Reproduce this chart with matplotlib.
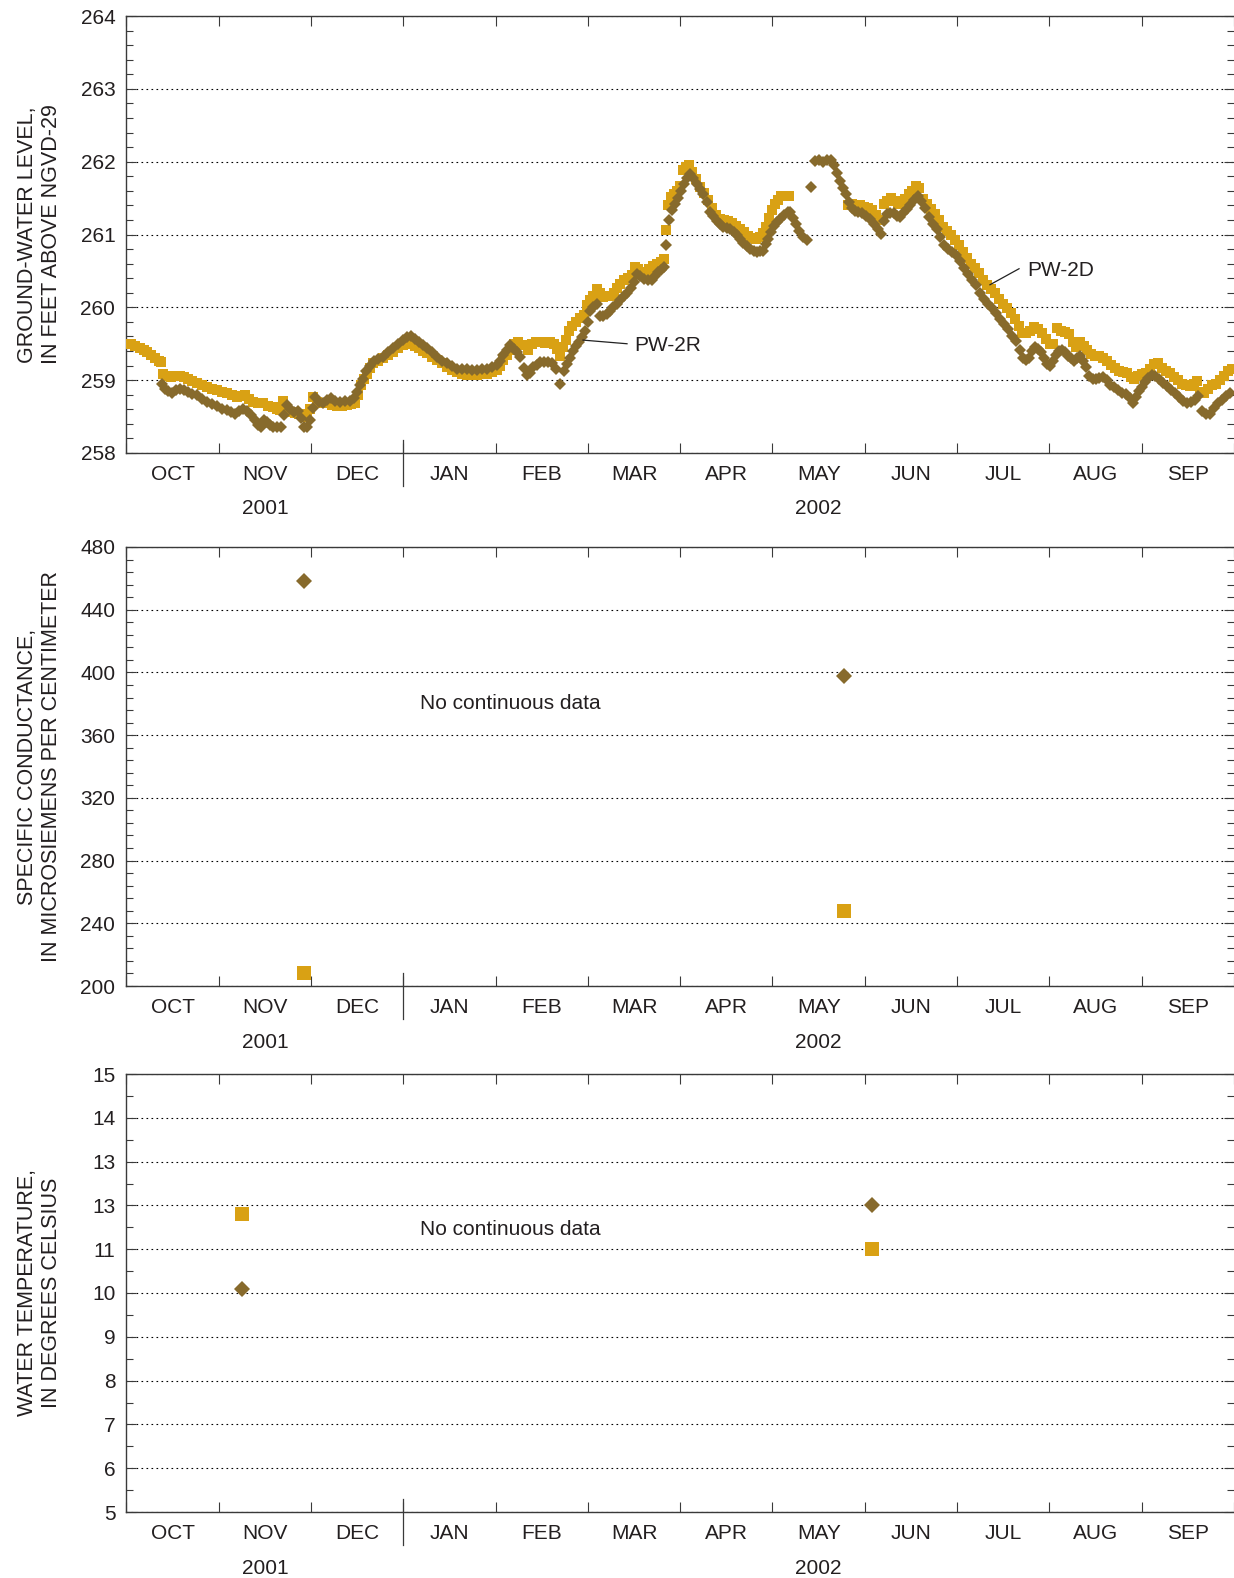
import matplotlib
matplotlib.use('Agg')
import matplotlib.pyplot as plt
import numpy as np
from matplotlib.transforms import blended_transform_factory
from matplotlib.ticker import MultipleLocator, FixedLocator, FuncFormatter

plt.rcParams['font.family'] = ['Liberation Sans', 'DejaVu Sans']
plt.rcParams['font.size'] = 15

TXT = '#231f20'
AXC = '#3a3a3a'
GOLD = '#d9a114'
BROWN = '#876a2c'

# ---------------- data ----------------
months = ['OCT', 'NOV', 'DEC', 'JAN', 'FEB', 'MAR', 'APR', 'MAY', 'JUN', 'JUL', 'AUG', 'SEP']
years = ['2001', '2002']
year_pos = [1.5, 7.5]          # month position (months since 1 Oct 2001)

# time in months since 1 October 2001 (each month plotted with equal width)
pw2d_t = [0.006, 0.050, 0.093, 0.147, 0.191, 0.223, 0.267, 0.310, 0.353, 0.375,
          0.397, 0.440, 0.483, 0.527, 0.581, 0.624, 0.667, 0.711, 0.765, 0.819,
          0.873, 0.927, 0.982, 1.036, 1.090, 1.144, 1.198, 1.242, 1.285, 1.328,
          1.372, 1.426, 1.480, 1.534, 1.588, 1.632, 1.664, 1.697, 1.740, 1.783,
          1.827, 1.870, 1.913, 1.957, 1.989, 2.022, 2.065, 2.119, 2.173, 2.228,
          2.282, 2.336, 2.390, 2.433, 2.477, 2.509, 2.542, 2.574, 2.607, 2.639,
          2.672, 2.726, 2.780, 2.834, 2.888, 2.943, 2.997, 3.040, 3.083, 3.127,
          3.170, 3.213, 3.257, 3.311, 3.365, 3.419, 3.473, 3.528, 3.582, 3.636,
          3.690, 3.744, 3.798, 3.853, 3.907, 3.961, 4.015, 4.048, 4.080, 4.123,
          4.156, 4.199, 4.243, 4.297, 4.351, 4.394, 4.438, 4.481, 4.535, 4.589,
          4.633, 4.665, 4.698, 4.730, 4.763, 4.795, 4.828, 4.871, 4.914, 4.958,
          4.990, 5.023, 5.055, 5.099, 5.131, 5.164, 5.207, 5.250, 5.283, 5.315,
          5.348, 5.391, 5.434, 5.478, 5.510, 5.543, 5.586, 5.629, 5.662, 5.705,
          5.749, 5.792, 5.824, 5.846, 5.868, 5.900, 5.933, 5.965, 5.998, 6.030,
          6.063, 6.095, 6.128, 6.171, 6.214, 6.258, 6.301, 6.345, 6.388, 6.431,
          6.475, 6.518, 6.561, 6.605, 6.648, 6.691, 6.735, 6.778, 6.821, 6.865,
          6.897, 6.930, 6.962, 6.995, 7.027, 7.060, 7.092, 7.136, 7.179,
          7.818, 7.861, 7.905, 7.948, 7.991, 8.035, 8.078, 8.121, 8.165, 8.208,
          8.241, 8.284, 8.327, 8.360, 8.403, 8.436, 8.479, 8.511, 8.555, 8.587,
          8.631, 8.674, 8.717, 8.761, 8.804, 8.847, 8.891, 8.934, 8.977, 9.021,
          9.064, 9.107, 9.151, 9.194, 9.237, 9.281, 9.324, 9.367, 9.411, 9.454,
          9.497, 9.541, 9.584, 9.627, 9.671, 9.703, 9.746, 9.790, 9.833, 9.876,
          9.920, 9.963, 10.006, 10.039, 10.082, 10.126, 10.169, 10.212, 10.256, 10.288,
          10.332, 10.375, 10.407, 10.451, 10.494, 10.537, 10.581, 10.624, 10.667, 10.711,
          10.754, 10.797, 10.841, 10.884, 10.917, 10.960, 11.003, 11.047, 11.090, 11.133,
          11.177, 11.220, 11.263, 11.307, 11.350, 11.393, 11.437, 11.480, 11.523, 11.567,
          11.599, 11.632, 11.675, 11.718, 11.762, 11.805, 11.848, 11.892, 11.935, 11.978]
pw2d_level = [259.50, 259.49, 259.47, 259.44, 259.41, 259.39, 259.35, 259.31, 259.27, 259.25,
              259.08, 259.06, 259.05, 259.06, 259.06, 259.04, 259.02, 258.99, 258.96, 258.94,
              258.91, 258.88, 258.86, 258.84, 258.82, 258.79, 258.77, 258.78, 258.79, 258.74,
              258.70, 258.69, 258.68, 258.65, 258.63, 258.61, 258.59, 258.72, 258.60, 258.56,
              258.55, 258.54, 258.54, 258.50, 258.60, 258.77, 258.70, 258.69, 258.68, 258.66,
              258.64, 258.65, 258.66, 258.67, 258.68, 258.80, 258.93, 259.02, 259.09, 259.17,
              259.23, 259.27, 259.30, 259.35, 259.39, 259.44, 259.48, 259.50, 259.50, 259.47,
              259.44, 259.40, 259.37, 259.32, 259.28, 259.23, 259.18, 259.14, 259.11, 259.09,
              259.07, 259.07, 259.07, 259.08, 259.09, 259.11, 259.14, 259.20, 259.28, 259.35,
              259.41, 259.50, 259.53, 259.48, 259.41, 259.50, 259.53, 259.52, 259.51, 259.52,
              259.50, 259.43, 259.33, 259.45, 259.55, 259.68, 259.75, 259.80, 259.85, 259.90,
              260.03, 260.10, 260.16, 260.25, 260.20, 260.14, 260.15, 260.16, 260.20, 260.27,
              260.32, 260.37, 260.40, 260.45, 260.55, 260.52, 260.48, 260.49, 260.52, 260.57,
              260.59, 260.62, 260.66, 261.06, 261.40, 261.52, 261.56, 261.60, 261.66, 261.88,
              261.93, 261.95, 261.86, 261.76, 261.65, 261.57, 261.48, 261.36, 261.27, 261.21,
              261.20, 261.18, 261.16, 261.12, 261.08, 261.03, 260.98, 260.95, 260.94, 260.96,
              261.02, 261.10, 261.22, 261.33, 261.42, 261.48, 261.53, 261.53, 261.53,
              261.40, 261.42, 261.41, 261.40, 261.38, 261.37, 261.33, 261.27, 261.20, 261.42,
              261.46, 261.50, 261.46, 261.42, 261.45, 261.49, 261.55, 261.60, 261.66, 261.64,
              261.49, 261.42, 261.35, 261.28, 261.20, 261.10, 261.05, 261.00, 260.93, 260.85,
              260.76, 260.68, 260.60, 260.54, 260.47, 260.37, 260.31, 260.25, 260.20, 260.12,
              260.05, 259.99, 259.92, 259.84, 259.74, 259.65, 259.65, 259.67, 259.73, 259.70,
              259.65, 259.56, 259.50, 259.49, 259.71, 259.68, 259.66, 259.63, 259.52, 259.46,
              259.53, 259.47, 259.42, 259.36, 259.33, 259.33, 259.30, 259.26, 259.21, 259.17,
              259.13, 259.11, 259.10, 259.04, 259.01, 259.06, 259.09, 259.10, 259.16, 259.22,
              259.24, 259.17, 259.13, 259.10, 259.05, 259.00, 258.95, 258.93, 258.92, 258.95,
              258.99, 258.84, 258.83, 258.88, 258.93, 258.95, 259.00, 259.06, 259.12, 259.16]

pw2r_t = [0.386, 0.418, 0.451, 0.494, 0.537, 0.581, 0.624, 0.667, 0.711, 0.765,
          0.819, 0.873, 0.927, 0.982, 1.036, 1.090, 1.133, 1.177, 1.220, 1.263,
          1.307, 1.350, 1.393, 1.426, 1.458, 1.491, 1.523, 1.556, 1.588, 1.632,
          1.675, 1.707, 1.740, 1.772, 1.816, 1.859, 1.892, 1.924, 1.957, 1.989,
          2.022, 2.043, 2.087, 2.130, 2.173, 2.217, 2.260, 2.314, 2.368, 2.423,
          2.466, 2.498, 2.531, 2.563, 2.596, 2.639, 2.683, 2.726, 2.780, 2.834,
          2.888, 2.943, 2.997, 3.040, 3.083, 3.127, 3.170, 3.213, 3.257, 3.311,
          3.365, 3.419, 3.473, 3.528, 3.582, 3.636, 3.690, 3.744, 3.798, 3.853,
          3.907, 3.961, 4.015, 4.048, 4.080, 4.123, 4.156, 4.199, 4.232, 4.264,
          4.308, 4.340, 4.373, 4.405, 4.449, 4.481, 4.524, 4.568, 4.611, 4.654,
          4.698, 4.741, 4.774, 4.806, 4.839, 4.871, 4.903, 4.936, 4.969, 5.001,
          5.023, 5.055, 5.099, 5.131, 5.164, 5.207, 5.239, 5.272, 5.315, 5.348,
          5.391, 5.424, 5.467, 5.499, 5.532, 5.565, 5.608, 5.651, 5.694, 5.727,
          5.759, 5.792, 5.824, 5.846, 5.879, 5.911, 5.944, 5.976, 6.009, 6.041,
          6.074, 6.106, 6.139, 6.182, 6.214, 6.247, 6.290, 6.323, 6.355, 6.399,
          6.431, 6.464, 6.507, 6.540, 6.583, 6.615, 6.648, 6.680, 6.724, 6.756,
          6.800, 6.832, 6.865, 6.897, 6.930, 6.952, 6.984, 7.016, 7.049, 7.081,
          7.125, 7.168, 7.190, 7.222, 7.255, 7.287, 7.331, 7.374, 7.417, 7.460,
          7.504, 7.547, 7.591, 7.634, 7.666, 7.699, 7.731, 7.764, 7.796, 7.829,
          7.861, 7.894, 7.926, 7.970, 8.013, 8.056, 8.100, 8.143, 8.176, 8.208,
          8.241, 8.273, 8.316, 8.349, 8.381, 8.414, 8.457, 8.490, 8.533, 8.576,
          8.609, 8.652, 8.695, 8.739, 8.782, 8.815, 8.858, 8.901, 8.945, 8.988,
          9.031, 9.075, 9.118, 9.161, 9.205, 9.248, 9.292, 9.335, 9.378, 9.422,
          9.465, 9.508, 9.552, 9.595, 9.638, 9.682, 9.714, 9.746, 9.779, 9.811,
          9.844, 9.876, 9.909, 9.941, 9.974, 10.006, 10.039, 10.072, 10.104, 10.137,
          10.169, 10.202, 10.234, 10.267, 10.299, 10.332, 10.364, 10.397, 10.429, 10.472,
          10.505, 10.537, 10.581, 10.624, 10.657, 10.700, 10.743, 10.787, 10.830, 10.873,
          10.906, 10.938, 10.971, 11.003, 11.036, 11.068, 11.112, 11.144, 11.188, 11.231,
          11.274, 11.318, 11.361, 11.404, 11.448, 11.491, 11.534, 11.578, 11.610, 11.653,
          11.697, 11.740, 11.783, 11.827, 11.870, 11.913, 11.957]
pw2r_level = [258.95, 258.88, 258.85, 258.83, 258.86, 258.88, 258.86, 258.84, 258.81, 258.79,
              258.74, 258.70, 258.67, 258.64, 258.61, 258.59, 258.56, 258.54, 258.57, 258.61,
              258.57, 258.52, 258.45, 258.39, 258.36, 258.45, 258.43, 258.39, 258.36, 258.36,
              258.36, 258.52, 258.66, 258.60, 258.56, 258.58, 258.48, 258.36, 258.36, 258.45,
              258.62, 258.77, 258.70, 258.69, 258.73, 258.75, 258.72, 258.70, 258.71, 258.72,
              258.76, 258.84, 258.93, 259.02, 259.12, 259.20, 259.26, 259.29, 259.32, 259.38,
              259.44, 259.50, 259.55, 259.59, 259.61, 259.57, 259.52, 259.48, 259.44, 259.38,
              259.32, 259.27, 259.23, 259.19, 259.16, 259.15, 259.15, 259.14, 259.14, 259.15,
              259.16, 259.18, 259.21, 259.27, 259.34, 259.42, 259.48, 259.43, 259.39, 259.32,
              259.17, 259.07, 259.10, 259.18, 259.21, 259.25, 259.25, 259.25, 259.24, 259.16,
              258.95, 259.12, 259.22, 259.30, 259.40, 259.47, 259.53, 259.59, 259.68, 259.80,
              259.95, 260.00, 260.05, 259.88, 259.88, 259.91, 259.95, 260.00, 260.05, 260.10,
              260.15, 260.19, 260.27, 260.35, 260.46, 260.43, 260.39, 260.38, 260.37, 260.43,
              260.48, 260.51, 260.55, 260.86, 261.20, 261.34, 261.42, 261.50, 261.60, 261.70,
              261.78, 261.83, 261.78, 261.69, 261.62, 261.56, 261.44, 261.31, 261.25, 261.19,
              261.14, 261.10, 261.09, 261.08, 261.03, 260.99, 260.94, 260.89, 260.84, 260.80,
              260.77, 260.76, 260.77, 260.78, 260.87, 260.94, 261.04, 261.12, 261.17, 261.21,
              261.27, 261.31, 261.31, 261.22, 261.14, 261.05, 260.97, 260.92, 261.65, 262.01,
              262.02, 261.99, 262.02, 262.02, 261.96, 261.84, 261.74, 261.64, 261.55, 261.45,
              261.36, 261.32, 261.31, 261.29, 261.25, 261.21, 261.14, 261.07, 261.01, 261.18,
              261.28, 261.30, 261.30, 261.26, 261.24, 261.30, 261.35, 261.41, 261.48, 261.53,
              261.46, 261.36, 261.24, 261.15, 261.08, 260.97, 260.86, 260.80, 260.76, 260.72,
              260.63, 260.54, 260.46, 260.38, 260.30, 260.20, 260.11, 260.04, 259.99, 259.92,
              259.84, 259.77, 259.70, 259.61, 259.54, 259.42, 259.30, 259.28, 259.30, 259.40,
              259.46, 259.43, 259.38, 259.30, 259.22, 259.19, 259.27, 259.35, 259.40, 259.42,
              259.38, 259.33, 259.30, 259.26, 259.30, 259.33, 259.27, 259.18, 259.06, 259.02,
              259.01, 259.03, 259.05, 259.00, 258.94, 258.90, 258.86, 258.83, 258.81, 258.76,
              258.69, 258.77, 258.85, 258.90, 258.97, 259.03, 259.07, 259.06, 259.02, 258.96,
              258.92, 258.87, 258.82, 258.77, 258.72, 258.69, 258.70, 258.73, 258.78, 258.57,
              258.53, 258.54, 258.62, 258.69, 258.73, 258.78, 258.83]

# discrete samples
sc_t = [1.924, 7.775]
sc_pw2d = [208, 248]
sc_pw2r = [458, 398]

wt_t_pw2d = [1.252, 8.078]
wt_pw2d = [11.8, 11.0]
wt_t_pw2r = [1.252, 8.078]
wt_pw2r = [10.1, 12.0]

temp_ticks = [5, 6, 7, 8, 9, 10, 11, 12, 13, 14, 15]
temp_labels = ['5', '6', '7', '8', '9', '10', '11', '13', '13', '14', '15']

# ---------------- figure ----------------
W, H = 1234, 1578
fig = plt.figure(figsize=(W / 100, H / 100), dpi=100)
LEFT = 126.4


def make_axes(top_px, bot_px):
    return fig.add_axes([LEFT / W, 1 - bot_px / H, 1 - LEFT / W, (bot_px - top_px) / H])


def style(ax, ylim, major, minor, ylabel, h_px):
    ax.set_xlim(0, 12)
    ax.set_ylim(*ylim)
    ax.xaxis.set_major_locator(FixedLocator(np.arange(0, 13)))
    ax.xaxis.set_minor_locator(FixedLocator(np.arange(12) + 0.5))
    ax.xaxis.set_minor_formatter(FuncFormatter(lambda v, p: months[int(v)] if 0 <= int(v) < 12 else ''))
    ax.xaxis.set_major_formatter(FuncFormatter(lambda v, p: ''))
    ax.tick_params(axis='x', which='major', direction='in', length=7, width=0.8,
                   top=True, bottom=True, labelbottom=False, color=AXC)
    ax.tick_params(axis='x', which='minor', length=0, pad=8.5, labelsize=15,
                   labelcolor=TXT, top=False)
    if major is not None:
        ax.yaxis.set_major_locator(MultipleLocator(major))
        ax.yaxis.set_major_formatter(FuncFormatter(lambda v, p: f'{v:.0f}'))
    ax.yaxis.set_minor_locator(MultipleLocator(minor))
    ax.tick_params(axis='y', which='major', direction='in', length=7, width=0.8,
                   left=True, right=True, pad=8, labelsize=15, labelcolor=TXT, color=AXC)
    ax.tick_params(axis='y', which='minor', direction='in', length=5, width=0.8,
                   left=True, right=True, color=AXC)
    ax.grid(axis='y', which='major', color='black', lw=0.8, linestyle=(0, (1.5, 3.0)))
    ax.grid(axis='x', visible=False)
    ax.spines['right'].set_visible(False)
    for s in ['left', 'top', 'bottom']:
        ax.spines[s].set_color(AXC)
        ax.spines[s].set_linewidth(1.0)
    ax.set_ylabel(ylabel, color=TXT, fontsize=15.5, linespacing=1.2)
    ax.yaxis.set_label_coords(-0.058, 0.5)
    tr = blended_transform_factory(ax.transData, ax.transAxes)
    ax.plot([3, 3], [-33 / h_px, 13 / h_px], transform=tr, clip_on=False,
            color=AXC, lw=0.9, zorder=5)
    for yr, xp in zip(years, year_pos):
        ax.text(xp, -56 / h_px, yr, transform=tr, ha='center', va='center',
                color=TXT, fontsize=15)


# ---- top panel: ground-water level ----
ax1 = make_axes(16, 453)
style(ax1, (258, 264), 1, 0.2, 'GROUND-WATER LEVEL,\nIN FEET ABOVE NGVD-29', 437)
ax1.plot(pw2d_t, pw2d_level, linestyle='none', marker='s', ms=6.5, mew=0, color=GOLD, zorder=3)
ax1.plot(pw2r_t, pw2r_level, linestyle='none', marker='D', ms=5.7, mew=0, color=BROWN, zorder=4)
ax1.plot([4.947, 5.424], [259.55, 259.50], color='#222222', lw=0.9, zorder=5)
ax1.text(5.50, 259.48, 'PW-2R', ha='left', va='center', color=TXT, fontsize=15)
ax1.plot([9.356, 9.671], [260.31, 260.53], color='#222222', lw=0.9, zorder=5)
ax1.text(9.757, 260.51, 'PW-2D', ha='left', va='center', color=TXT, fontsize=15)

# ---- middle panel: specific conductance ----
ax2 = make_axes(547, 986)
style(ax2, (200, 480), 40, 8, 'SPECIFIC CONDUCTANCE,\nIN MICROSIEMENS PER CENTIMETER', 439)
ax2.plot(sc_t, sc_pw2d, linestyle='none', marker='s', ms=10, mew=0, color=GOLD, zorder=3)
ax2.plot(sc_t, sc_pw2r, linestyle='none', marker='D', ms=8.1, mew=0, color=BROWN, zorder=4)
ax2.text(4.16, 380, 'No continuous data', ha='center', va='center', color=TXT, fontsize=15)

# ---- bottom panel: water temperature ----
ax3 = make_axes(1074, 1512)
style(ax3, (5, 15), None, 0.5, 'WATER TEMPERATURE,\nIN DEGREES CELSIUS', 438)
ax3.yaxis.set_major_locator(FixedLocator(temp_ticks))
ax3.yaxis.set_major_formatter(FuncFormatter(lambda v, p: temp_labels[p] if p is not None and 0 <= p < len(temp_labels) else ''))
ax3.plot(wt_t_pw2d, wt_pw2d, linestyle='none', marker='s', ms=10, mew=0, color=GOLD, zorder=3)
ax3.plot(wt_t_pw2r, wt_pw2r, linestyle='none', marker='D', ms=8.1, mew=0, color=BROWN, zorder=4)
ax3.text(4.16, 11.45, 'No continuous data', ha='center', va='center', color=TXT, fontsize=15)

fig.savefig('out.png', dpi=100)
